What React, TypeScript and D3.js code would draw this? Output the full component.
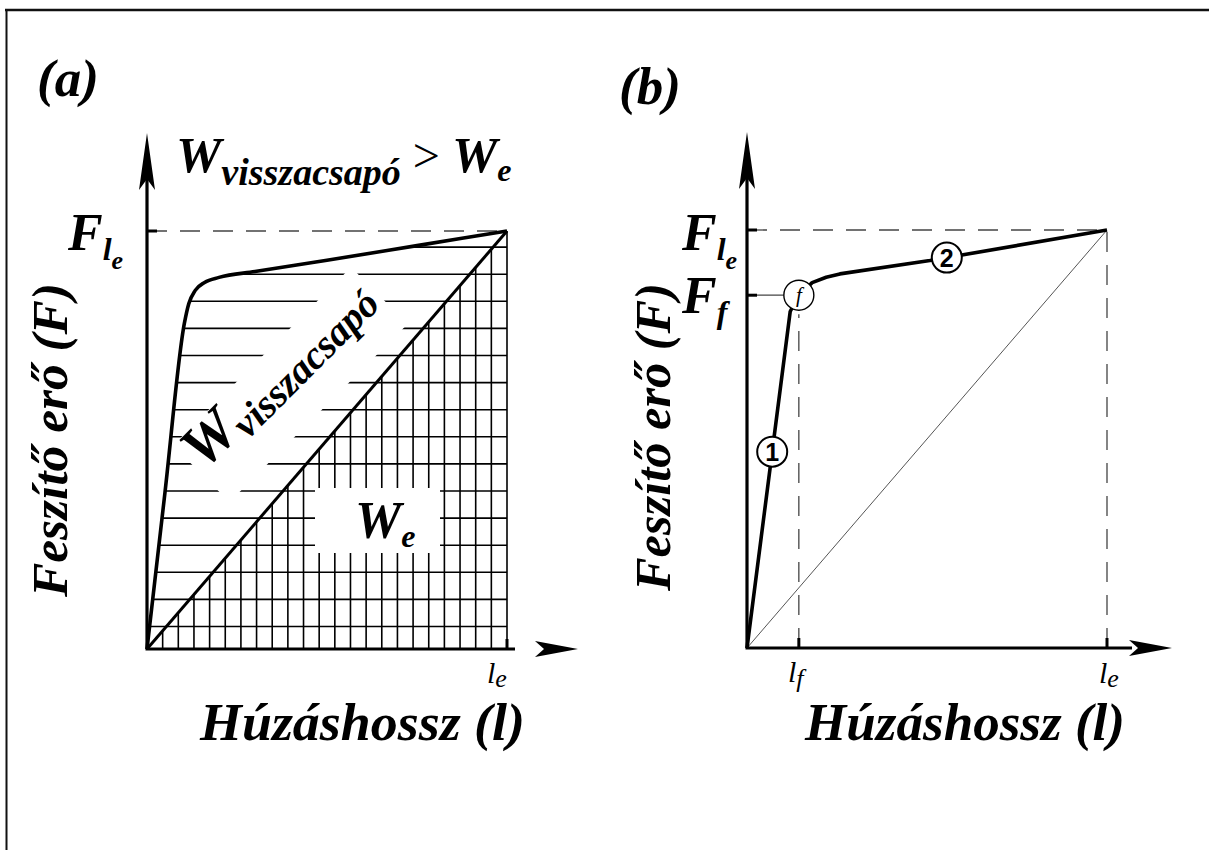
import React from 'react';
import * as d3 from 'd3';

// Panel (a): normalised draw length l/l_e and force F/F(l_e) of the bow curve
const curveA_l = [0, 0.05, 0.104, 0.116, 0.134, 0.16, 0.2, 0.3, 0.5, 0.75, 1];
const curveA_F = [0, 0.375, 0.78, 0.826, 0.858, 0.877, 0.889, 0.903, 0.93, 0.965, 1];

// Panel (b): stage 1 (steep) and stage 2 (flat) of the draw curve
const curveB_l = [0, 0.12, 0.144, 0.181, 0.22, 0.258, 0.508, 1];
const curveB_F = [0, 0.805, 0.844, 0.874, 0.887, 0.895, 0.927, 1];

// breakpoint f between the two stages
const breakL = 0.144;
const breakF = 0.844;

// numbered stage markers and where along l they sit
const stageNames = ['1', '2'];
const stagePos = [0.07, 0.555];

// texts
const xTitle = 'Húzáshossz (l)';
const yTitle = 'Feszítő erő (F)';
const panelTags = ['(a)', '(b)'];

const serif = "'Liberation Serif','DejaVu Serif',serif";
const sans = "'Liberation Sans','DejaVu Sans',sans-serif";
const italicBold = { fontFamily: serif, fontWeight: 700, fontStyle: 'italic' } as const;
const dash = '20 13';

export default function App() {
  // ---------- panel (a) ----------
  const xA = d3.scaleLinear().domain([0, 1]).range([147, 507]);
  const yA = d3.scaleLinear().domain([0, 1]).range([649, 231]);
  const pathA = d3
    .line<number>()
    .x((_, i) => xA(curveA_l[i]))
    .y((_, i) => yA(curveA_F[i]))
    .curve(d3.curveMonotoneX)(curveA_l) as string;
  const lOnCurveA = d3.scaleLinear().domain(curveA_F).range(curveA_l);

  // hatching: horizontal rows between curve and l_e, vertical columns under the chord
  const rowStep = 27.1 / 418;
  const rowStart = 22.5 / 418;
  const rows = d3.range(15).map((k) => rowStart + k * rowStep);
  const cols = d3.range(1, 23).map((k) => k / 23);

  // ---------- panel (b) ----------
  const xB = d3.scaleLinear().domain([0, 1]).range([747, 1107]);
  const yB = d3.scaleLinear().domain([0, 1]).range([648, 230]);
  const pathB = d3
    .line<number>()
    .x((_, i) => xB(curveB_l[i]))
    .y((_, i) => yB(curveB_F[i]))
    .curve(d3.curveLinear)(curveB_l) as string;
  const fOnCurveB = d3.scaleLinear().domain(curveB_l).range(curveB_F);
  const rMark = 15;

  const yArrow = (x: number, tip: number) =>
    `${x},${tip} ${x + 8},${tip + 57} ${x},${tip + 46} ${x - 8},${tip + 57}`;
  const xArrow = (tip: number, y: number) =>
    `${tip},${y} ${tip - 43},${y - 8} ${tip - 34},${y} ${tip - 43},${y + 8}`;

  return (
    <svg
      width={1209}
      height={850}
      style={{ position: 'absolute', left: 0, top: 0, background: '#fff' }}
    >
      <rect x={0} y={0} width={1209} height={850} fill="#fff" />
      {/* frame */}
      <line x1={5} y1={10} x2={1209} y2={10} stroke="#111" strokeWidth={2.5} />
      <line x1={6.5} y1={9} x2={6.5} y2={850} stroke="#111" strokeWidth={2} />

      {/* ================= (a) ================= */}
      <g>
        {rows.map((f, i) => (
          <line
            key={'r' + i}
            x1={xA(lOnCurveA(f))}
            x2={xA(1)}
            y1={yA(f)}
            y2={yA(f)}
            stroke="#000"
            strokeWidth={1.6}
          />
        ))}
        {cols.map((l, i) => (
          <line
            key={'c' + i}
            x1={xA(l)}
            x2={xA(l)}
            y1={yA(0)}
            y2={yA(l)}
            stroke="#000"
            strokeWidth={1.6}
          />
        ))}
        <line x1={xA(1)} x2={xA(1)} y1={yA(0)} y2={yA(1)} stroke="#000" strokeWidth={1.6} />

        {/* clear areas behind the area labels */}
        <rect x={315} y={488} width={125} height={65} fill="#fff" />
        <g transform="translate(204,471) rotate(-45)">
          <rect x={-4} y={-40} width={252} height={80} fill="#fff" />
        </g>

        {/* reference line at F(l_e) */}
        <line x1={xA(0)} x2={xA(1)} y1={yA(1)} y2={yA(1)} stroke="#444" strokeWidth={1.3} strokeDasharray={dash} />

        {/* chord and draw curve */}
        <line x1={xA(0)} y1={yA(0)} x2={xA(1)} y2={yA(1)} stroke="#000" strokeWidth={3} />
        <path d={pathA} fill="none" stroke="#000" strokeWidth={3.6} strokeLinejoin="round" />

        {/* axes */}
        <line x1={xA(0)} y1={yA(0)} x2={xA(0)} y2={175} stroke="#000" strokeWidth={3.2} />
        <polygon points={yArrow(xA(0), 133)} fill="#000" />
        <line x1={xA(0) - 1.5} y1={yA(0)} x2={515} y2={yA(0)} stroke="#000" strokeWidth={3.2} />
        <polygon points={xArrow(578, yA(0))} fill="#000" />
        <line x1={xA(0)} x2={xA(0) + 10} y1={yA(1)} y2={yA(1)} stroke="#000" strokeWidth={3} />
        <line x1={xA(1)} x2={xA(1)} y1={yA(0)} y2={yA(0) - 10} stroke="#000" strokeWidth={3} />

        {/* texts */}
        <text x={37} y={96} fontSize={53} {...italicBold}>{panelTags[0]}</text>
        <text x={176} y={172} fontSize={51} {...italicBold}>
          W
          <tspan fontSize={38} dy={13}>visszacsapó</tspan>
          <tspan dy={-13} fontSize={48} fontWeight={400} fontStyle="normal">{' > '}</tspan>
          <tspan fontSize={51}>W</tspan>
          <tspan fontSize={32} dy={9}>e</tspan>
        </text>
        <text x={68} y={250} fontSize={52} {...italicBold}>
          F<tspan fontSize={32} dy={10}>l</tspan>
          <tspan fontSize={26} dy={9}>e</tspan>
        </text>
        <text x={487} y={683} fontSize={30} fontFamily={serif} fontStyle="italic">
          l<tspan fontSize={26} dy={4}>e</tspan>
        </text>
        <text x={200} y={740} fontSize={52} textLength={325} lengthAdjust="spacingAndGlyphs" {...italicBold}>
          {xTitle}
        </text>
        <text transform="translate(67,597) rotate(-90)" fontSize={50} textLength={314} lengthAdjust="spacingAndGlyphs" {...italicBold}>
          {yTitle}
        </text>
        <g transform="translate(204,471) rotate(-45)">
          <text x={0} y={0} fontSize={60} {...italicBold}>
            W<tspan fontSize={40} dy={9}>visszacsapó</tspan>
          </text>
        </g>
        <text x={355} y={538} fontSize={52} {...italicBold}>
          W<tspan fontSize={32} dy={9}>e</tspan>
        </text>
      </g>

      {/* ================= (b) ================= */}
      <g>
        <line x1={xB(0)} x2={xB(1)} y1={yB(1)} y2={yB(1)} stroke="#444" strokeWidth={1.3} strokeDasharray={dash} />
        <line x1={xB(1)} x2={xB(1)} y1={yB(0)} y2={yB(1)} stroke="#444" strokeWidth={1.3} strokeDasharray={dash} />
        <line x1={xB(breakL)} x2={xB(breakL)} y1={yB(0)} y2={yB(breakF) + rMark + 4} stroke="#444" strokeWidth={1.3} strokeDasharray={dash} />
        <line x1={xB(0)} x2={xB(breakL) - rMark} y1={yB(breakF)} y2={yB(breakF)} stroke="#444" strokeWidth={1.3} />

        {/* chord */}
        <line x1={xB(0)} y1={yB(0)} x2={xB(1)} y2={yB(1)} stroke="#555" strokeWidth={1} />
        {/* draw curve */}
        <path d={pathB} fill="none" stroke="#000" strokeWidth={3.6} strokeLinejoin="round" />

        {/* axes */}
        <line x1={xB(0)} y1={yB(0)} x2={xB(0)} y2={175} stroke="#000" strokeWidth={3.2} />
        <polygon points={yArrow(xB(0), 132)} fill="#000" />
        <line x1={xB(0) - 1.5} y1={yB(0)} x2={1132} y2={yB(0)} stroke="#000" strokeWidth={3.2} />
        <polygon points={xArrow(1172, yB(0))} fill="#000" />
        <line x1={xB(0)} x2={xB(0) + 10} y1={yB(1)} y2={yB(1)} stroke="#000" strokeWidth={3} />
        <line x1={xB(0)} x2={xB(0) + 10} y1={yB(breakF)} y2={yB(breakF)} stroke="#000" strokeWidth={3} />
        <line x1={xB(breakL)} x2={xB(breakL)} y1={yB(0)} y2={yB(0) - 10} stroke="#000" strokeWidth={3} />
        <line x1={xB(1)} x2={xB(1)} y1={yB(0)} y2={yB(0) - 10} stroke="#000" strokeWidth={3} />

        {/* breakpoint f */}
        <circle cx={xB(breakL)} cy={yB(breakF)} r={rMark} fill="#fff" stroke="#000" strokeWidth={1.4} />
        <text x={xB(breakL)} y={yB(breakF) + 7} textAnchor="middle" fontSize={21} fontFamily={serif} fontStyle="italic">
          f
        </text>

        {/* stage markers */}
        {stageNames.map((s, i) => (
          <g key={s}>
            <circle
              cx={xB(stagePos[i])}
              cy={yB(fOnCurveB(stagePos[i]))}
              r={rMark}
              fill="#fff"
              stroke="#000"
              strokeWidth={2}
            />
            <text
              x={xB(stagePos[i])}
              y={yB(fOnCurveB(stagePos[i])) + 9}
              textAnchor="middle"
              fontSize={25}
              fontWeight={700}
              fontFamily={sans}
            >
              {s}
            </text>
          </g>
        ))}

        {/* texts */}
        <text x={619} y={104} fontSize={53} {...italicBold}>{panelTags[1]}</text>
        <text x={682} y={250} fontSize={52} {...italicBold}>
          F<tspan fontSize={32} dy={10}>l</tspan>
          <tspan fontSize={26} dy={9}>e</tspan>
        </text>
        <text x={682} y={313} fontSize={52} {...italicBold}>
          F<tspan fontSize={32} dy={10}>f</tspan>
        </text>
        <text x={788} y={682} fontSize={30} fontFamily={serif} fontStyle="italic">
          l<tspan fontSize={26} dy={5}>f</tspan>
        </text>
        <text x={1099} y={683} fontSize={30} fontFamily={serif} fontStyle="italic">
          l<tspan fontSize={26} dy={4}>e</tspan>
        </text>
        <text x={805} y={740} fontSize={52} textLength={320} lengthAdjust="spacingAndGlyphs" {...italicBold}>
          {xTitle}
        </text>
        <text transform="translate(670,591) rotate(-90)" fontSize={50} textLength={308} lengthAdjust="spacingAndGlyphs" {...italicBold}>
          {yTitle}
        </text>
      </g>
    </svg>
  );
}
